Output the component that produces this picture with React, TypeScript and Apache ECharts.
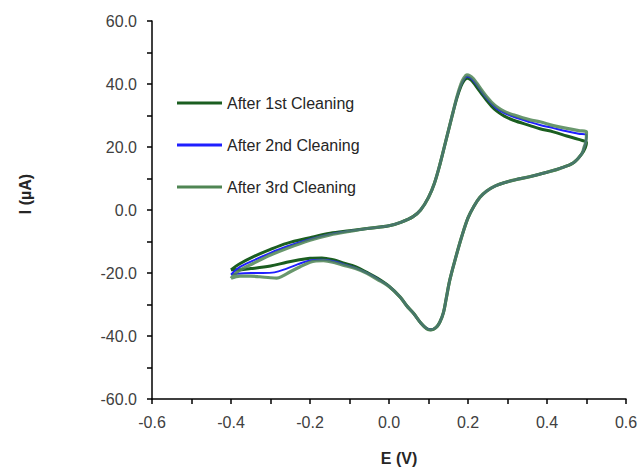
import React, { useEffect, useRef } from "react";
import * as echarts from "echarts";

const seriesNames = ["After 1st Cleaning", "After 2nd Cleaning", "After 3rd Cleaning"];

// [E (V), I (µA)], forward scan then reverse scan
const cleaning1: number[][] = [
  [-0.4, -19.0], [-0.38, -17.2], [-0.343, -14.8], [-0.3, -12.5], [-0.259, -10.6], [-0.2, -8.8],
  [-0.149, -7.4], [-0.1, -6.6], [-0.05, -5.8], [0.0, -5.0], [0.03, -3.9], [0.061, -2.1], [0.08, 0.0],
  [0.1, 4.0], [0.115, 8.5], [0.13, 15.0], [0.145, 22.5], [0.16, 30.0], [0.172, 35.6], [0.182, 39.2],
  [0.19, 41.1], [0.198, 41.8], [0.206, 41.4], [0.214, 40.4], [0.222, 39.0], [0.235, 36.8], [0.247, 34.8],
  [0.26, 32.9], [0.273, 31.4], [0.292, 29.8], [0.315, 28.5],
  [0.357, 26.8], [0.382, 25.8], [0.416, 24.8], [0.45, 23.5], [0.48, 22.4], [0.5, 21.4],
  [0.497, 19.8], [0.488, 17.8], [0.467, 15.0], [0.433, 13.2], [0.4, 12.0], [0.357, 10.6], [0.32, 9.6],
  [0.298, 8.9], [0.27, 7.7], [0.247, 6.0], [0.23, 4.0], [0.215, 1.2], [0.2, -2.5], [0.184, -8.5],
  [0.168, -15.5], [0.154, -22.2], [0.145, -28.0], [0.138, -32.5], [0.128, -35.8], [0.118, -37.4],
  [0.106, -38.0], [0.095, -37.6], [0.08, -35.8], [0.062, -32.8], [0.045, -30.4], [0.028, -27.6],
  [0.0, -24.2], [-0.03, -21.6], [-0.056, -19.8], [-0.085, -18.0], [-0.116, -16.8], [-0.141, -15.8],
  [-0.17, -15.2], [-0.2, -15.3], [-0.23, -15.9], [-0.259, -16.6], [-0.3, -17.8], [-0.35, -18.6],
  [-0.385, -19.0], [-0.4, -19.0],
];

const cleaning2: number[][] = [
  [-0.4, -20.5], [-0.38, -18.3], [-0.343, -16.0], [-0.3, -13.6], [-0.259, -11.6], [-0.2, -9.3],
  [-0.149, -7.7], [-0.1, -6.7], [-0.05, -5.8], [0.0, -5.0], [0.03, -3.9], [0.061, -2.1], [0.08, 0.0],
  [0.1, 4.0], [0.115, 8.5], [0.13, 15.0], [0.145, 22.5], [0.16, 30.0], [0.172, 35.8], [0.182, 39.6],
  [0.19, 41.6], [0.198, 42.4], [0.206, 42.0], [0.214, 41.0], [0.222, 39.8], [0.235, 37.5], [0.247, 35.5],
  [0.26, 33.7], [0.273, 32.2], [0.292, 30.8], [0.315, 29.6],
  [0.357, 27.9], [0.382, 27.0], [0.416, 26.0], [0.45, 25.0], [0.48, 24.2], [0.5, 23.7],
  [0.498, 21.5], [0.493, 19.5], [0.488, 17.8], [0.467, 15.0], [0.433, 13.2], [0.4, 12.0], [0.357, 10.6],
  [0.32, 9.6], [0.298, 8.9], [0.27, 7.7], [0.247, 6.0], [0.23, 4.0], [0.215, 1.2], [0.2, -2.5],
  [0.184, -8.5], [0.168, -15.5], [0.154, -22.2], [0.145, -28.0], [0.138, -32.5], [0.128, -35.8],
  [0.118, -37.4], [0.106, -38.0], [0.095, -37.6], [0.08, -35.8], [0.062, -32.8], [0.045, -30.4],
  [0.028, -27.6], [0.0, -24.2], [-0.03, -21.8], [-0.056, -20.0], [-0.085, -18.4], [-0.116, -17.2],
  [-0.141, -16.3], [-0.17, -15.8], [-0.2, -16.0], [-0.23, -17.2], [-0.259, -18.6], [-0.29, -19.8],
  [-0.32, -20.0], [-0.35, -20.0], [-0.385, -20.2], [-0.4, -20.5],
];

const cleaning3: number[][] = [
  [-0.4, -21.7], [-0.38, -19.3], [-0.343, -16.9], [-0.3, -14.3], [-0.259, -12.2], [-0.2, -9.6],
  [-0.149, -7.9], [-0.1, -6.8], [-0.05, -5.8], [0.0, -5.0], [0.03, -3.9], [0.061, -2.1], [0.08, 0.0],
  [0.1, 4.0], [0.115, 8.5], [0.13, 15.0], [0.145, 22.5], [0.16, 30.0], [0.172, 36.0], [0.182, 40.0],
  [0.19, 42.0], [0.197, 42.9], [0.205, 42.6], [0.214, 41.6], [0.222, 40.3], [0.235, 38.0], [0.247, 36.0],
  [0.26, 34.2], [0.273, 32.8], [0.292, 31.3], [0.315, 30.2],
  [0.357, 28.6], [0.382, 28.0], [0.416, 26.8], [0.45, 25.9], [0.48, 25.2], [0.5, 24.8],
  [0.499, 22.0], [0.494, 20.0], [0.488, 17.8], [0.467, 15.0], [0.433, 13.2], [0.4, 12.0], [0.357, 10.6],
  [0.32, 9.6], [0.298, 8.9], [0.27, 7.7], [0.247, 6.0], [0.23, 4.0], [0.215, 1.2], [0.2, -2.5],
  [0.184, -8.5], [0.168, -15.5], [0.154, -22.2], [0.145, -28.0], [0.138, -32.5], [0.128, -35.8],
  [0.118, -37.4], [0.106, -38.1], [0.095, -37.7], [0.08, -35.8], [0.062, -32.8], [0.045, -30.5],
  [0.028, -27.6], [0.0, -24.3], [-0.03, -22.0], [-0.056, -20.1], [-0.085, -18.6], [-0.116, -17.5],
  [-0.133, -16.9], [-0.166, -16.1], [-0.185, -16.2], [-0.2, -16.6], [-0.225, -18.0], [-0.25, -19.6],
  [-0.27, -21.0], [-0.284, -21.6], [-0.3, -21.5], [-0.327, -21.2], [-0.35, -21.0], [-0.377, -21.0],
  [-0.4, -21.7],
];

const colors = ["#1b5e20", "#1f1fff", "#4f8553"];
const widths = [3, 2, 3.2];
const xAxisTitle = "E (V)";
const yAxisTitle = "I (µA)";

export default function App() {
  const ref = useRef<HTMLDivElement>(null);
  useEffect(() => {
    if (!ref.current) return;
    const chart = echarts.init(ref.current, null, { renderer: "svg" });
    const datasets = [cleaning1, cleaning2, cleaning3];
    const labelFont = { fontFamily: "Liberation Sans", fontSize: 16, color: "#404040" };
    const axisLine = { show: true, onZero: false, lineStyle: { color: "#000", width: 1.5 } };
    const tick = { show: true, inside: false, length: 5, lineStyle: { color: "#000", width: 1.5 } };
    const minor = { show: true, splitNumber: 2, length: 5, lineStyle: { color: "#000", width: 1.5 } };
    chart.setOption({
      animation: false,
      backgroundColor: "#fff",
      grid: { left: 152, right: 16, top: 21, bottom: 73, containLabel: false },
      xAxis: {
        type: "value",
        min: -0.6,
        max: 0.6,
        interval: 0.2,
        axisLine,
        axisTick: tick,
        minorTick: minor,
        splitLine: { show: false },
        axisLabel: { ...labelFont, margin: 15, formatter: (v: number) => v.toFixed(1) },
      },
      yAxis: {
        type: "value",
        min: -60,
        max: 60,
        interval: 20,
        axisLine,
        axisTick: tick,
        minorTick: minor,
        splitLine: { show: false },
        axisLabel: { ...labelFont, margin: 15, formatter: (v: number) => v.toFixed(1) },
      },
      legend: {
        orient: "vertical",
        left: 172,
        top: 89,
        itemWidth: 45,
        itemHeight: 3,
        itemGap: 24,
        textStyle: { fontFamily: "Liberation Sans", fontSize: 16, color: "#262626", lineHeight: 18 },
        data: seriesNames.map((n, i) => ({
          name: n,
          icon: "rect",
          itemStyle: { color: colors[i], opacity: 1 },
        })),
      },
      graphic: [
        {
          type: "text",
          x: 399,
          y: 458,
          style: {
            text: xAxisTitle,
            fontFamily: "Liberation Sans",
            fontSize: 16,
            fontWeight: "bold",
            fill: "#262626",
            align: "center",
            verticalAlign: "middle",
          },
        },
        {
          type: "text",
          x: 25,
          y: 194,
          rotation: Math.PI / 2,
          style: {
            text: yAxisTitle,
            fontFamily: "Liberation Sans",
            fontSize: 16,
            fontWeight: "bold",
            fill: "#262626",
            align: "center",
            verticalAlign: "middle",
          },
        },
      ],
      series: datasets.map((d, i) => ({
        name: seriesNames[i],
        type: "line",
        data: d,
        showSymbol: false,
        symbol: "none",
        smooth: 0.35,
        z: 2 + i,
        lineStyle: { color: colors[i], width: widths[i], opacity: i === 2 ? 0.85 : 1 },
        itemStyle: { color: colors[i] },
      })),
    });
    return () => chart.dispose();
  }, []);
  return (
    <div
      ref={ref}
      style={{ position: "fixed", left: 0, top: 0, width: 642, height: 472 }}
    />
  );
}
